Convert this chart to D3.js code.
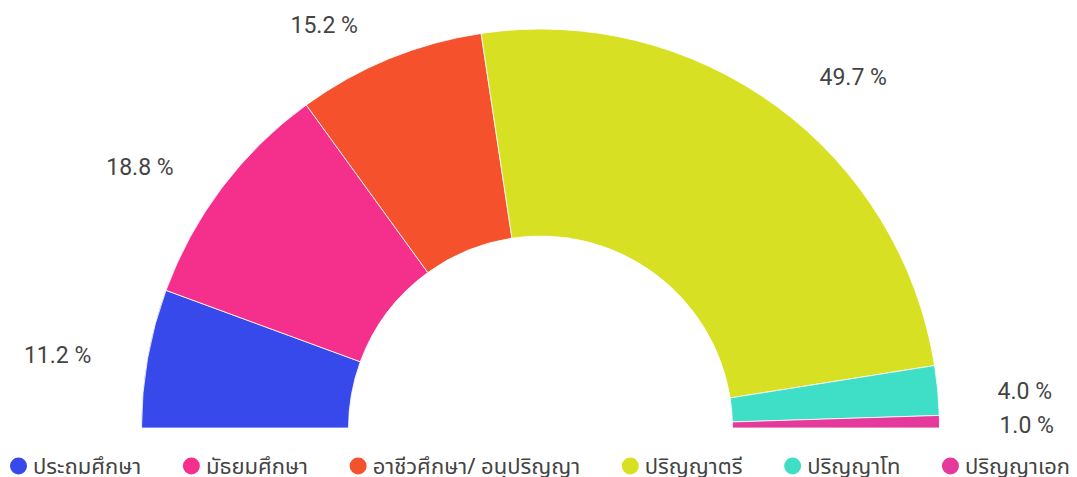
<!DOCTYPE html>
<html>
<head>
<meta charset="utf-8">
<script src="https://cdn.jsdelivr.net/npm/d3@7"></script>
<style>
  body { margin: 0; background: #fff; }
  svg { display: block; }
</style>
</head>
<body>
<div id="chart"></div>
<script>
// education levels and their shares (%)
const categories = ["ประถมศึกษา", "มัธยมศึกษา", "อาชีวศึกษา/ อนุปริญญา", "ปริญญาตรี", "ปริญญาโท", "ปริญญาเอก"];
const values = [11.2, 18.8, 15.2, 49.7, 4.0, 1.0];
const colors = ["#3749eb", "#f5308c", "#f5512d", "#d7e022", "#3edfc6", "#e5399b"];

const width = 1077, height = 477;
const cx = 540.5, cy = 428;
const outerR = 399, innerR = 192, labelR = 440;

const svg = d3.select("#chart").append("svg")
    .attr("width", width)
    .attr("height", height)
    .attr("viewBox", [0, 0, width, height]);

const data = categories.map((c, i) => ({name: c, value: values[i], color: colors[i]}));

const pie = d3.pie()
    .value(d => d.value)
    .sort(null)
    .startAngle(-Math.PI / 2)
    .endAngle(Math.PI / 2);

const arc = d3.arc().innerRadius(innerR).outerRadius(outerR);
const labelArc = d3.arc().innerRadius(labelR).outerRadius(labelR);

const arcs = pie(data);

const g = svg.append("g").attr("transform", `translate(${cx},${cy})`);

g.selectAll("path")
  .data(arcs)
  .join("path")
    .attr("d", arc)
    .attr("fill", d => d.data.color)
    .attr("stroke", "#fff")
    .attr("stroke-width", 0.8);

// percentage labels outside the ring
g.selectAll("text")
  .data(arcs)
  .join("text")
    .attr("transform", d => {
      const [x, y] = labelArc.centroid(d);
      const mid = (d.startAngle + d.endAngle) / 2;
      return `translate(${x + (mid < 0 ? -16 : 19)},${y + 4})`;
    })
    .attr("text-anchor", d => (d.startAngle + d.endAngle) / 2 < 0 ? "end" : "start")
    .attr("dy", "0.35em")
    .attr("font-family", "Roboto, sans-serif")
    .attr("font-size", 23)
    .attr("fill", "#444")
    .text(d => `${d.data.value.toFixed(1)} %`);

// legend, spread across the bottom like the original
const legend = svg.append("g");
const items = legend.selectAll("g")
  .data(data)
  .join("g");

items.append("circle")
    .attr("r", 8.5)
    .attr("cx", 8.5)
    .attr("fill", d => d.color);

items.append("text")
    .attr("x", 23)
    .attr("dy", "0.35em")
    .attr("font-family", "'Noto Sans Thai', 'Noto Sans', sans-serif")
    .attr("font-size", 22)
    .attr("fill", "#444")
    .text(d => d.name);

const widths = [];
items.each(function() {
  widths.push(23 + d3.select(this).select("text").node().getComputedTextLength());
});
const left = 10, right = 1070;
const gap = (right - left - d3.sum(widths)) / (widths.length - 1);
let xpos = left;
items.each(function(d, i) {
  d3.select(this).attr("transform", `translate(${xpos},0)`);
  xpos += widths[i] + gap;
});
legend.attr("transform", `translate(0,466)`);
</script>
</body>
</html>
